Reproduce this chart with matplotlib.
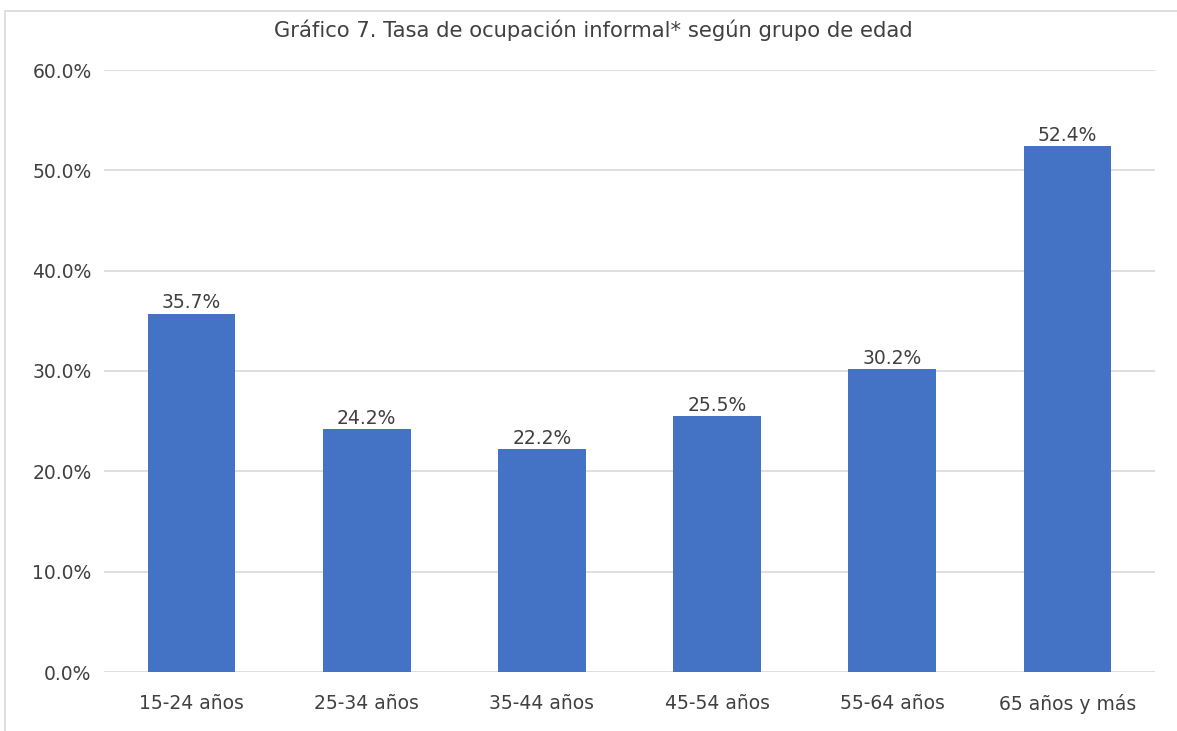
import matplotlib
matplotlib.use("Agg")
import matplotlib.pyplot as plt
from matplotlib.patches import Rectangle
from matplotlib.ticker import FuncFormatter, MultipleLocator

categories = ["15-24 años", "25-34 años", "35-44 años", "45-54 años", "55-64 años", "65 años y más"]
values = [35.7, 24.2, 22.2, 25.5, 30.2, 52.4]
title = "Gráfico 7. Tasa de ocupación informal* según grupo de edad"

plt.rcParams['font.family'] = ['DejaVu Sans']

W, H = 1177, 731
fig = plt.figure(figsize=(W / 100, H / 100), dpi=100)
fig.patch.set_facecolor("white")

# chart frame
fig.patches.append(Rectangle((5 / W, -0.05), 1.1, 1 - 11 / H + 0.05, transform=fig.transFigure,
                             fill=False, edgecolor="#d9d9d9", linewidth=1.2))

ax = fig.add_axes([104 / W, 1 - 672 / H, (1155 - 104) / W, (672 - 70) / H])
x = list(range(len(categories)))
ax.bar(x, values, width=0.5, color="#4472C4", zorder=3)
ax.set_xlim(-0.5, len(categories) - 0.5)
ax.set_ylim(0, 60)
ax.yaxis.set_major_locator(MultipleLocator(10))
ax.yaxis.set_major_formatter(FuncFormatter(lambda v, p: f"{v:.1f}%"))
ax.grid(axis="y", color="#d9d9d9", linewidth=1.2, zorder=0)
for s in ax.spines.values():
    s.set_visible(False)
ax.tick_params(axis="both", length=0, labelsize=13.5, colors="#404040")
ax.tick_params(axis="y", pad=9)
ax.tick_params(axis="x", pad=16)
ax.set_xticks(x)
ax.set_xticklabels(categories)

for xi, v in zip(x, values):
    ax.annotate(f"{v:.1f}%", (xi, v), xytext=(0, 1), textcoords="offset points",
                ha="center", va="bottom", fontsize=13.5, color="#404040")

fig.text(593 / W, 1 - 30 / H, title, ha="center", va="center", fontsize=15.2, color="#404040")

fig.savefig("out.png", dpi=100)
